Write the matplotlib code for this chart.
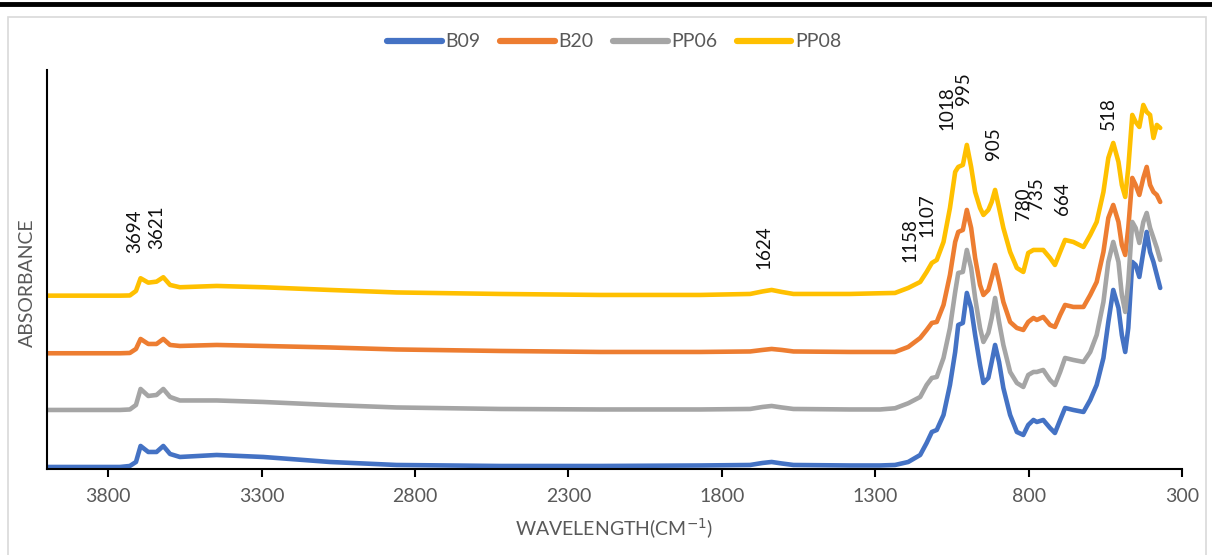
import matplotlib
matplotlib.use("Agg")
import matplotlib.pyplot as plt
from matplotlib.lines import Line2D
from matplotlib.patches import Rectangle

plt.rcParams['font.family'] = ['Lato', 'DejaVu Sans']

# shared wavenumber grid (cm-1)
wavenumber = [4000, 3761, 3729, 3709, 3694, 3669, 3642, 3620, 3598, 3566,
              3446, 3294, 3077, 2860, 2523, 2197, 1871, 1708, 1668, 1638,
              1605, 1567, 1383, 1285,
              1236, 1193, 1154, 1133, 1116, 1100, 1078, 1057, 1040, 1030,
              1015, 1002, 988, 975, 959, 948, 932, 921, 910, 897,
              883, 861, 839, 818, 802, 785, 774, 753, 731, 715,
              698, 682, 655, 622, 600, 579, 557, 541, 525, 508,
              497, 486, 476, 463, 452, 440, 427, 416, 405, 394,
              383, 372]

b09 = [0.02, 0.02, 0.03, 0.07, 0.23, 0.17, 0.17, 0.23, 0.15, 0.12,
       0.14, 0.12, 0.07, 0.04, 0.03, 0.03, 0.035, 0.04, 0.06, 0.07,
       0.055, 0.04, 0.035, 0.035,
       0.04, 0.07, 0.14, 0.26, 0.37, 0.39, 0.54, 0.84, 1.17, 1.44,
       1.46, 1.76, 1.61, 1.34, 1.04, 0.86, 0.91, 1.07, 1.24, 1.07,
       0.81, 0.54, 0.37, 0.34, 0.44, 0.49, 0.47, 0.49, 0.41, 0.36,
       0.49, 0.61, 0.59, 0.57, 0.69, 0.84, 1.11, 1.47, 1.79, 1.61,
       1.34, 1.17, 1.41, 2.07, 2.04, 1.92, 2.17, 2.37, 2.17, 2.07,
       1.94, 1.81]

b20 = [1.157, 1.157, 1.16, 1.20, 1.30, 1.25, 1.25, 1.30, 1.24, 1.23,
       1.24, 1.23, 1.215, 1.195, 1.18, 1.17, 1.17, 1.175, 1.19, 1.20,
       1.19, 1.175, 1.17, 1.17,
       1.17, 1.22, 1.31, 1.39, 1.46, 1.47, 1.64, 1.94, 2.27, 2.37,
       2.39, 2.59, 2.41, 2.11, 1.84, 1.74, 1.79, 1.91, 2.04, 1.87,
       1.67, 1.47, 1.41, 1.39, 1.47, 1.51, 1.49, 1.52, 1.44, 1.42,
       1.54, 1.64, 1.62, 1.62, 1.74, 1.87, 2.17, 2.51, 2.64, 2.47,
       2.24, 2.14, 2.41, 2.91, 2.84, 2.74, 2.91, 3.02, 2.84, 2.77,
       2.74, 2.67]

pp06 = [0.59, 0.59, 0.595, 0.64, 0.80, 0.73, 0.74, 0.80, 0.72, 0.685,
        0.685, 0.67, 0.64, 0.615, 0.60, 0.595, 0.595, 0.60, 0.62, 0.63,
        0.615, 0.60, 0.595, 0.595,
        0.607, 0.657, 0.72, 0.84, 0.91, 0.92, 1.11, 1.41, 1.77, 1.96,
        1.97, 2.19, 2.01, 1.71, 1.41, 1.27, 1.36, 1.51, 1.71, 1.47,
        1.24, 0.97, 0.86, 0.82, 0.94, 0.97, 0.97, 0.99, 0.89, 0.84,
        0.97, 1.11, 1.09, 1.07, 1.17, 1.34, 1.67, 2.07, 2.27, 2.07,
        1.74, 1.57, 1.87, 2.47, 2.41, 2.26, 2.47, 2.56, 2.41, 2.31,
        2.21, 2.09]

pp08 = [1.733, 1.733, 1.735, 1.78, 1.907, 1.863, 1.873, 1.917, 1.84, 1.817,
        1.83, 1.817, 1.79, 1.765, 1.75, 1.74, 1.74, 1.75, 1.775, 1.79,
        1.77, 1.75, 1.75, 1.757,
        1.76, 1.81, 1.87, 1.97, 2.06, 2.09, 2.27, 2.61, 2.97, 3.02,
        3.04, 3.24, 3.02, 2.77, 2.61, 2.54, 2.59, 2.67, 2.79, 2.61,
        2.41, 2.17, 2.01, 1.97, 2.16, 2.19, 2.19, 2.19, 2.11, 2.04,
        2.17, 2.29, 2.27, 2.22, 2.34, 2.47, 2.77, 3.11, 3.26, 3.07,
        2.84, 2.72, 3.01, 3.54, 3.47, 3.42, 3.64, 3.57, 3.54, 3.31,
        3.44, 3.41]

series_names = ['B09', 'B20', 'PP06', 'PP08']
series_colors = ['#4472C4', '#ED7D31', '#A5A5A5', '#FFC000']

# peak labels: text, wavenumber position, absorbance position
peak_text = ['3694', '3621', '1624', '1158', '1107', '1018', '995', '905',
             '780', '735', '664', '518']
peak_x = [3712, 3642, 1663, 1187, 1133, 1068, 1013, 916, 818, 774, 689, 541]
peak_y = [2.16, 2.20, 2.00, 2.07, 2.32, 3.39, 3.64, 3.09, 2.49, 2.59, 2.54, 3.39]

fig = plt.figure(figsize=(12.12, 5.55), dpi=100)
ax = fig.add_axes([0.0385, 0.155, 0.937, 0.719])

for name, ys, c in zip(series_names, [b09, b20, pp06, pp08], series_colors):
    ax.plot(wavenumber, ys, color=c, lw=3.3, label=name,
            solid_capstyle='round', solid_joinstyle='round')

for t, x, y in zip(peak_text, peak_x, peak_y):
    ax.text(x, y, t, rotation=90, ha='center', va='bottom',
            fontsize=13.5, color='#111111')

ax.set_xlim(4000, 300)
ax.set_ylim(0, 3.99)
ax.set_xticks(range(3800, 299, -500))
ax.set_yticks([])
ax.tick_params(axis='x', length=6, width=1.5, colors='#000000',
               labelcolor='#595959', labelsize=14, pad=8)
for s in ['top', 'right']:
    ax.spines[s].set_visible(False)
for s in ['left', 'bottom']:
    ax.spines[s].set_linewidth(1.5)
    ax.spines[s].set_color('#000000')

ax.set_xlabel('WAVELENGTH(CM$^{-1}$)', fontsize=14, color='#595959', labelpad=8)
fig.text(0.023, 0.49, 'ABSORBANCE', rotation=90, ha='center', va='center',
         fontsize=14, color='#595959')

leg = ax.legend(loc='center', bbox_to_anchor=(0.5, 1.07), ncol=4, frameon=False,
                fontsize=14, handlelength=2.8, handletextpad=0.2,
                columnspacing=1.0, labelcolor='#595959')
for h in leg.get_lines():
    h.set_linewidth(4.5)

# chart frame and cut-off page line above
fig.add_artist(Rectangle((0.007, -0.01), 0.988, 0.98, transform=fig.transFigure,
                         fill=False, edgecolor='#D9D9D9', lw=1.2))
fig.add_artist(Line2D([0.0, 1.0], [0.992, 0.992], transform=fig.transFigure,
                      color='black', lw=3.5))

fig.savefig('out.png', dpi=100)
